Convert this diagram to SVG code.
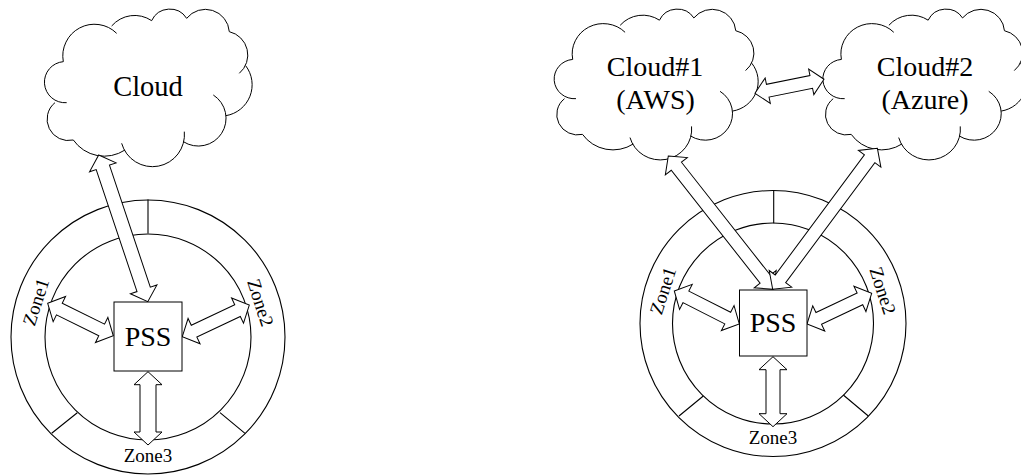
<svg xmlns="http://www.w3.org/2000/svg" width="1021" height="475" viewBox="0 0 1021 475">
<style>
.s{fill:none;stroke:#000;stroke-width:1.1}
.w{fill:#fff;stroke:#000;stroke-width:1}
.c{fill:#fff;stroke:#000;stroke-width:1;vector-effect:non-scaling-stroke}
text{font-family:"Liberation Serif","Times New Roman",serif;fill:#000;text-anchor:middle}
.b{font-size:28px}
.z{font-size:19px}
</style>
<defs>
<path id="cloud" class="c" d="M190,185A95,95 0 0 1 350,100M335,78A91,91 0 0 1 455,62A60,60 0 0 1 560,55A72,72 0 0 1 688,95A72,72 0 0 1 718,220M737,197A94,94 0 0 1 678,347M640,285A83,83 0 0 1 550,425M553,395A96,96 0 0 1 365,430M375,450A113,113 0 0 1 220,420A64,64 0 0 1 165,308M200,308A61.5,61.5 0 0 1 190,185"/>
</defs>
<g id="cloud-left"><use href="#cloud" transform="scale(0.3333)"/><text class="b" x="148" y="96" style="font-size:28.5px">Cloud</text></g>
<g id="cloud-1"><use href="#cloud" transform="translate(510.5,0.4) scale(0.3274,0.319)"/><text class="b" x="655" y="76">Cloud#1</text><text class="b" x="655.5" y="109">(AWS)</text></g>
<g id="cloud-2"><use href="#cloud" transform="translate(779.2,0.4) scale(0.3274,0.319)"/><text class="b" x="925" y="76">Cloud#2</text><text class="b" x="925" y="109">(Azure)</text></g>
<g id="zones-left">
<circle class="s" cx="148" cy="337" r="137"/><circle class="s" cx="148" cy="337" r="103"/>
<path class="s" d="M148,199.5V233.5M77.3,412.7L51.7,433.3M220,412.7L245,433.3"/>
<text class="z" transform="translate(42,304) rotate(-72)">Zone1</text>
<text class="z" transform="translate(254.4,304.7) rotate(72)">Zone2</text>
<text class="z" x="148" y="461.7">Zone3</text>
</g>
<g id="zones-right">
<circle class="s" cx="773" cy="323.5" r="133"/><circle class="s" cx="773" cy="323.5" r="100.5"/>
<path class="s" d="M773.7,191V223.3M703.3,396L679,416M843.3,395L868.3,416"/>
<text class="z" transform="translate(669,292.7) rotate(-72)">Zone1</text>
<text class="z" transform="translate(876.7,292.7) rotate(72)">Zone2</text>
<text class="z" x="773" y="444.3">Zone3</text>
</g>
<g id="connectors">
<polygon class="w" transform="translate(98.7,155) rotate(71.5)" points="0,0 13,-14 13,-7 141.7,-7 141.7,-14 154.7,0 141.7,14 141.7,7 13,7 13,14"/>
<polygon class="w" transform="translate(47.7,303.3) rotate(26.3)" points="0,0 13,-14 13,-6.5 60.2,-6.5 60.2,-14 73.2,0 60.2,14 60.2,6.5 13,6.5 13,14"/>
<polygon class="w" transform="translate(182.3,336.7) rotate(-25.3)" points="0,0 13,-14 13,-6.5 61.1,-6.5 61.1,-14 74.1,0 61.1,14 61.1,6.5 13,6.5 13,14"/>
<polygon class="w" transform="translate(148,371.7) rotate(90)" points="0,0 13,-14 13,-8 60.3,-8 60.3,-14 73.3,0 60.3,14 60.3,8 13,8 13,14"/>
<polygon class="w" transform="translate(668.3,156) rotate(51.8)" points="0,0 13,-14 13,-6.5 156.7,-6.5 156.7,-14 169.7,0 156.7,14 156.7,6.5 13,6.5 13,14"/>
<polygon class="w" transform="translate(772.7,289.3) rotate(-53.4)" points="0,0 13,-14 13,-6.5 162.6,-6.5 162.6,-14 175.6,0 162.6,14 162.6,6.5 13,6.5 13,14"/>
<polygon class="w" transform="translate(755,93.3) rotate(-11.5)" points="0,0 13,-13 13,-6.5 57.4,-6.5 57.4,-13 70.4,0 57.4,13 57.4,6.5 13,6.5 13,13"/>
<polygon class="w" transform="translate(674.3,291) rotate(26.9)" points="0,0 13,-14 13,-6.5 59.9,-6.5 59.9,-14 72.9,0 59.9,14 59.9,6.5 13,6.5 13,14"/>
<polygon class="w" transform="translate(807,324) rotate(-25.4)" points="0,0 13,-14 13,-6.5 58.6,-6.5 58.6,-14 71.6,0 58.6,14 58.6,6.5 13,6.5 13,14"/>
<polygon class="w" transform="translate(773,356.7) rotate(90)" points="0,0 13,-14 13,-7 57,-7 57,-14 70,0 57,14 57,7 13,7 13,14"/>
</g>
<g id="pss-left"><rect class="w" x="114" y="302" width="68" height="69"/><text class="b" x="148" y="346">PSS</text></g>
<g id="pss-right"><rect class="w" x="739.5" y="290" width="67.5" height="66"/><text class="b" x="773" y="332.3">PSS</text></g>
</svg>
